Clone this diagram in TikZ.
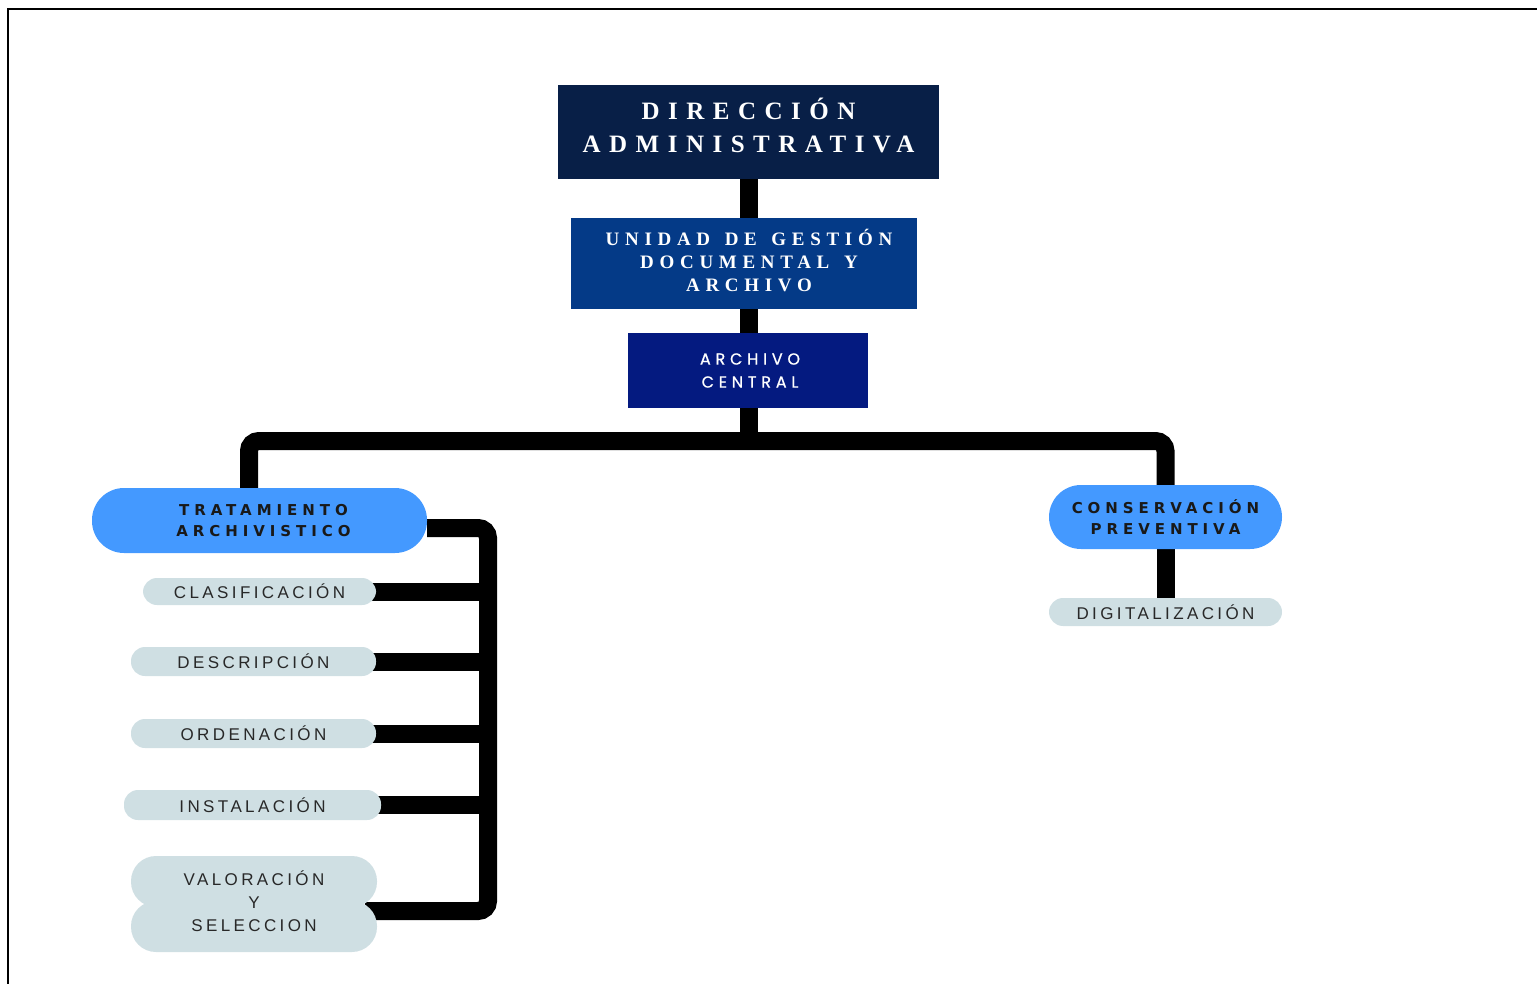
\documentclass[tikz,border=0pt]{standalone}
\usepackage{fontspec}
\setmainfont{Liberation Serif}
\newfontfamily\dirfont[LetterSpace=34]{Liberation Serif}
\newfontfamily\unidfont[LetterSpace=30, WordSpace=1.4]{Liberation Serif}
\newfontfamily\centralfont[LetterSpace=30, FakeBold=0.8]{Poppins}
\newfontfamily\bluefont[LetterSpace=33]{DejaVu Sans}
\newfontfamily\greyfont[LetterSpace=20]{Liberation Sans}
\usetikzlibrary{positioning, backgrounds}
\definecolor{navydark}{RGB}{8,31,71}
\definecolor{navymid}{RGB}{4,58,135}
\definecolor{navydeep}{RGB}{4,26,128}
\definecolor{pillblue}{RGB}{68,153,255}
\definecolor{pillgrey}{RGB}{207,223,227}
\definecolor{pilltext}{RGB}{40,40,40}

\begin{document}
\begin{tikzpicture}[x=1pt, y=-1pt,
    topbox/.style={rectangle, inner sep=0pt},
    boxtext/.style={inner sep=0pt, text=white, align=center},
    bluepill/.style={rectangle, rounded corners=32pt, fill=pillblue, inner sep=0pt,
        align=center, text=black!90, font=\bluefont\bfseries\fontsize{15}{20.5}\selectfont},
    greypill/.style={rectangle, rounded corners=14pt, fill=pillgrey, inner sep=0pt,
        align=center, text=pilltext, font=\greyfont\fontsize{17}{23}\selectfont},
    conn/.style={line width=18pt, black}]
    \useasboundingbox (0,0) rectangle (1537,984);

    % Frame
    \draw[line width=2pt] (8,984) -- (8,9) -- (1537,9);

    % Top boxes
    \node[topbox, fill=navydark, minimum width=381, minimum height=94] (dir) at (748.5,132) {};
    \node[boxtext, font=\dirfont\bfseries\fontsize{25}{33}\selectfont]
        at ([yshift=7pt]dir.center) {DIRECCIÓN\\ADMINISTRATIVA};
    \node[topbox, fill=navymid, minimum width=346, minimum height=91] (unidad) at (744,263.5) {};
    \node[boxtext, font=\unidfont\bfseries\fontsize{19}{23}\selectfont]
        at ([xshift=5pt, yshift=3pt]unidad.center) {UNIDAD DE GESTIÓN\\DOCUMENTAL Y\\ARCHIVO};
    \node[topbox, fill=navydeep, minimum width=240, minimum height=75] (central) at (748,370.5) {};
    \node[boxtext, font=\centralfont\fontsize{16}{23}\selectfont]
        at ([xshift=2pt]central.center) {ARCHIVO\\CENTRAL};

    % Blue pills
    \node[bluepill, minimum width=335, minimum height=65] (trat) at (259.5,520.5) {};
    \node[bluepill, fill=none, inner sep=0pt] at ([xshift=4pt]trat.center)
        {TRATAMIENTO\\ARCHIVISTICO};
    \node[bluepill, minimum width=233, minimum height=64] (cons) at (1165.5,517)
        {CONSERVACIÓN\\PREVENTIVA};

    % Grey pills
    \node[greypill, minimum width=233, minimum height=28] (digit) at (1165.5,612) {DIGITALIZACIÓN};
    \node[greypill, minimum width=233, minimum height=27] (clas) at (259.5,591.5) {CLASIFICACIÓN};
    \node[greypill, minimum width=245, minimum height=29] (desc) at (253.5,661.5) {DESCRIPCIÓN};
    \node[greypill, minimum width=245, minimum height=29] (orden) at (253.5,733.5) {ORDENACIÓN};
    \node[greypill, minimum width=257, minimum height=30] (inst) at (252.5,805) {INSTALACIÓN};
    \fill[pillgrey, rounded corners=25pt] (131,856) rectangle (377,907);
    \fill[pillgrey, rounded corners=25pt] (131,901) rectangle (377,952);
    \node[greypill, fill=none, minimum width=246, minimum height=96] (valor) at (254,904) {};
    \node[greypill, fill=none] at ([yshift=3pt]valor.center) {VALORACIÓN\\Y\\SELECCION};

    % Connectors
    \coordinate (hub) at (749,441);
    \coordinate (lft) at (249,488);
    \coordinate (sptop) at (488,528);
    \coordinate (spbot) at (488,911);
    \begin{scope}[on background layer]
        \draw[conn] (dir.south -| hub) -- (hub);
        \draw[conn, rounded corners=10pt] (lft) |- (hub) -| (cons.north);
        \draw[conn] (cons.south) -- (digit.north);
        \draw[conn, rounded corners=10pt] (trat.east |- sptop) -- (sptop) -- (spbot)
            -- (valor.east |- spbot) -- ++(-12,0);
        \foreach \n in {clas,desc,orden,inst}
            \draw[conn] ([xshift=-6pt]\n.east) -- (\n.east -| sptop);
    \end{scope}
\end{tikzpicture}
\end{document}
